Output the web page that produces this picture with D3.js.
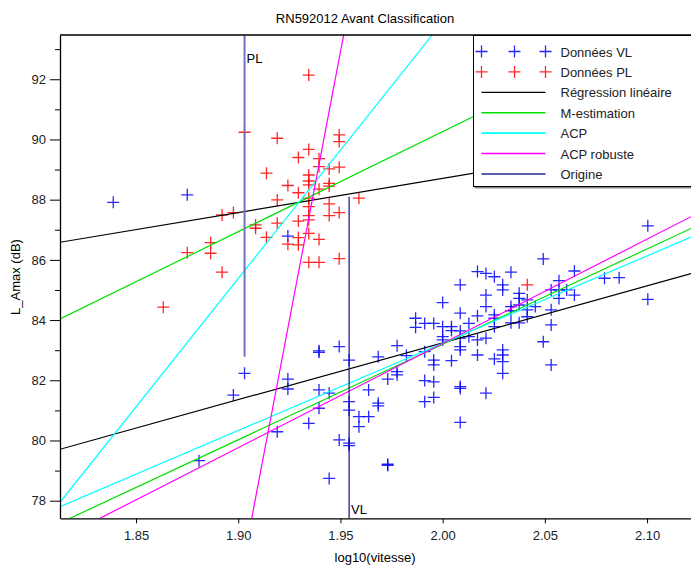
<!DOCTYPE html>
<html>
<head>
<meta charset="utf-8">
<script src="https://cdn.jsdelivr.net/npm/d3@7"></script>
<style>
  body { margin: 0; background: #fff; }
  text { font-family: "Liberation Sans", Arial, sans-serif; }
</style>
</head>
<body>
<div id="chart"></div>
<script>
const chart_width = 691;
const chart_height = 568;
const margin_top = 35;
const margin_right = 0;
const margin_bottom = 50;
const margin_left = 60;

// points VL (vitesse km/h, L_Amax dB)
const vl_vitesse = [69, 75, 76, 79, 80, 83, 84, 84, 84, 86, 87, 87, 87, 87, 88, 88, 89, 89,
  90, 90, 90, 90, 90, 91, 91, 92, 92, 93, 93, 93, 94, 94, 94, 95, 95, 95, 96, 97, 97,
  98, 98, 98, 98, 99, 99, 99, 99, 99, 100, 100, 100, 100, 101, 101, 101,
  102, 102, 102, 102, 102, 102, 102, 102, 102, 103, 103, 104, 104, 104, 104,
  105, 105, 105, 105, 105, 106, 106, 106, 106, 106, 107, 107, 107, 107, 107, 107,
  108, 108, 108, 108, 109, 109, 109, 109, 110, 110, 110, 111, 112, 112,
  113, 113, 113, 113, 114, 114, 114, 115, 116, 116, 120, 122, 126, 126];
const vl_lamax = [87.91, 88.16, 79.33, 81.51, 82.23, 80.29, 86.79, 82.04, 81.71, 80.57, 82.98, 82.93, 81.68, 81.07, 81.57, 78.74, 83.12, 80.02,
  82.67, 81.29, 81.01, 79.91, 79.83, 80.79, 80.46, 81.68, 80.79, 82.78, 81.24, 81.15, 82.04, 79.21, 79.17, 83.15, 82.29, 82.18, 82.82, 84.06, 83.76,
  83.89, 82.95, 81.99, 81.29, 83.89, 82.67, 82.51, 81.95, 81.43, 84.58, 83.78, 83.45, 83.34, 83.78, 83.65, 82.65,
  85.17, 84.23, 83.64, 83.40, 83.12, 83.01, 81.79, 81.73, 80.60, 83.89, 83.45, 85.61, 84.14, 83.34, 82.84,
  85.55, 84.83, 84.45, 83.40, 81.57, 85.44, 84.17, 84.06, 83.78, 82.71, 85.17, 85.00, 83.01, 82.84, 82.62, 82.23,
  85.59, 84.45, 84.31, 83.91, 84.89, 84.72, 84.50, 83.91, 84.67, 84.34, 84.11, 84.45, 86.03, 83.28,
  85.00, 84.34, 83.84, 82.51, 85.31, 85.00, 84.72, 85.00, 85.63, 84.83, 85.39, 85.41, 87.13, 84.69];

// points PL
const pl_vitesse = [86, 80, 83, 89, 89, 86, 85, 87, 87, 88, 89, 82, 86, 86, 84, 86, 88, 88,
  85, 87, 83, 86, 86, 88, 91, 78, 79, 89, 88, 86, 86, 85, 83, 81, 81, 86, 82, 84,
  85, 85, 87, 77, 77, 75, 86, 87, 89, 78, 73, 110];
const pl_lamax = [92.14, 90.24, 90.04, 90.15, 89.93, 89.67, 89.40, 89.36, 89.10, 89.02, 89.08, 88.88, 88.82, 88.62, 88.47, 88.49, 88.54, 88.45,
  88.23, 88.35, 87.99, 88.05, 87.77, 87.86, 88.05, 87.49, 87.57, 87.57, 87.47, 87.47, 87.33, 87.29, 87.22, 87.16, 87.05, 86.88, 86.75, 86.52,
  86.74, 86.50, 86.68, 86.57, 86.22, 86.24, 85.92, 85.92, 86.04, 85.59, 84.43, 85.17];

// droites ajustées : L = intercept + slope * log10(vitesse)
const fit_names = ["Régression linéaire", "M-estimation", "ACP", "ACP robuste"];
const fit_colors = ["#000000", "#00e000", "#00ffff", "#ff00ff"];
const pl_intercepts = [66.028, 23.780, -76.594, -603.239];
const pl_slopes = [11.34, 33.24, 85.25, 357.0];
const vl_intercepts = [45.446, 19.813, 25.211, 13.924];
const vl_slopes = [18.9, 31.69, 29.01, 34.65];

// origines (vitesse, L de début, L de fin)
const origin_labels = ["PL", "VL"];
const origin_vitesse = [80, 90];
const origin_from = [82.78, 88.1];
const origin_to = [95, 76];

const x_ticks = [1.85, 1.90, 1.95, 2.00, 2.05, 2.10];
const y_ticks = [78, 80, 82, 84, 86, 88, 90, 92];
const y_minor = [79, 81, 83, 85, 87, 89, 91, 93];

const legend_items = ["Données VL", "Données PL", "Régression linéaire", "M-estimation", "ACP", "ACP robuste", "Origine"];

const svg = d3.select("#chart")
    .append("svg")
    .attr("width", chart_width)
    .attr("height", chart_height);

const x = d3.scaleLinear()
    .domain([1.8128, 2.1215])
    .range([margin_left, chart_width - margin_right]);

const y = d3.scaleLinear()
    .domain([77.415, 93.47])
    .range([chart_height - margin_bottom + 0.3, margin_top]);

svg.append("clipPath").attr("id", "plotclip")
    .append("rect")
    .attr("x", margin_left)
    .attr("y", margin_top)
    .attr("width", chart_width - margin_left + 5)
    .attr("height", y(77.415) - margin_top);

const plot = svg.append("g").attr("clip-path", "url(#plotclip)");

function crosses(g, xs, ys, color) {
    const pts = xs.map((v, i) => ({ x: Math.log10(v), y: ys[i] }));
    g.selectAll(null)
        .data(pts)
        .join("path")
        .attr("d", d => `M${x(d.x) - 6},${y(d.y)}h12M${x(d.x)},${y(d.y) - 6}v12`)
        .attr("stroke", color)
        .attr("stroke-width", 1.3)
        .attr("stroke-opacity", 0.85)
        .attr("fill", "none");
}

crosses(plot, vl_vitesse, vl_lamax, "#0000ff");
crosses(plot, pl_vitesse, pl_lamax, "#ff0000");

const x0 = x.domain()[0], x1 = x.domain()[1];
[[vl_intercepts, vl_slopes], [pl_intercepts, pl_slopes]].forEach(([ints, slopes]) => {
    ints.forEach((a, i) => {
        plot.append("line")
            .attr("x1", x(x0)).attr("y1", y(a + slopes[i] * x0))
            .attr("x2", x(x1)).attr("y2", y(a + slopes[i] * x1))
            .attr("stroke", fit_colors[i])
            .attr("stroke-width", 1.2);
    });
});

// segments d'origine
origin_vitesse.forEach((v, i) => {
    plot.append("line")
        .attr("x1", x(Math.log10(v))).attr("x2", x(Math.log10(v)))
        .attr("y1", y(origin_from[i])).attr("y2", y(origin_to[i]))
        .attr("stroke", i === 0 ? "#7272c2" : "#101090")
        .attr("stroke-width", i === 0 ? 2 : 1.2);
});
svg.append("text")
    .attr("x", x(Math.log10(origin_vitesse[0])) + 2)
    .attr("y", 63)
    .style("font-size", "13px")
    .text(origin_labels[0]);
svg.append("text")
    .attr("x", x(Math.log10(origin_vitesse[1])) + 2)
    .attr("y", 514)
    .style("font-size", "13px")
    .text(origin_labels[1]);

// axes
const x_axis = svg.append("g")
    .attr("transform", `translate(0,${y(77.415)})`)
    .call(d3.axisBottom(x).tickValues(x_ticks).tickFormat(d3.format(".2f")).tickSize(5).tickSizeOuter(0));

const y_axis = svg.append("g")
    .attr("transform", `translate(${margin_left},0)`)
    .call(d3.axisLeft(y).tickValues(y_ticks).tickFormat(d3.format("d")).tickSize(10).tickSizeOuter(0));

svg.append("g")
    .attr("transform", `translate(${margin_left},0)`)
    .call(d3.axisLeft(y).tickValues(y_minor).tickFormat("").tickSize(5).tickSizeOuter(0))
    .select(".domain").remove();

[x_axis, y_axis].forEach(g => {
    g.selectAll("text").style("font-size", "13px").style("font-family", "Liberation Sans, Arial, sans-serif").attr("fill", "#222");
    g.select(".domain").attr("stroke-width", 1.3);
});
x_axis.selectAll("text").attr("dy", "1.05em");
y_axis.selectAll("text").attr("x", -14);

// cadre haut
svg.append("line")
    .attr("x1", margin_left).attr("x2", chart_width)
    .attr("y1", margin_top).attr("y2", margin_top)
    .attr("stroke", "black").attr("stroke-width", 1.3);

svg.append("text")
    .attr("x", 365)
    .attr("y", 23)
    .attr("text-anchor", "middle")
    .style("font-size", "13px")
    .text("RN592012 Avant Classification");

svg.append("text")
    .attr("x", 375)
    .attr("y", 562)
    .attr("text-anchor", "middle")
    .style("font-size", "13px")
    .text("log10(vitesse)");

svg.append("text")
    .attr("transform", "rotate(-90)")
    .attr("x", -277)
    .attr("y", 20)
    .attr("text-anchor", "middle")
    .style("font-size", "13px")
    .text("L_Amax (dB)");

// légende
const legend = svg.append("g").attr("transform", "translate(473.5,35.5)");
legend.append("rect")
    .attr("x", 1).attr("y", 2)
    .attr("width", 240).attr("height", 151)
    .attr("fill", "#888");
legend.append("rect")
    .attr("x", 0).attr("y", 0)
    .attr("width", 240).attr("height", 151)
    .attr("fill", "white")
    .attr("stroke", "black");

const leg_colors = ["#0000ff", "#ff0000"].concat(fit_colors).concat(["#5c5cb0"]);
legend_items.forEach((name, i) => {
    const yy = 16 + i * 20.4;
    if (i < 2) {
        [8, 41, 72].forEach(xx => {
            legend.append("path")
                .attr("d", `M${xx - 6},${yy}h12M${xx},${yy - 6}v12`)
                .attr("stroke", leg_colors[i])
                .attr("stroke-width", 1.3)
                .attr("stroke-opacity", 0.85);
        });
    } else {
        legend.append("line")
            .attr("x1", 8).attr("x2", 72)
            .attr("y1", yy).attr("y2", yy)
            .attr("stroke", leg_colors[i])
            .attr("stroke-width", i === 2 ? 1.2 : (i === 6 ? 2 : 1.6));
    }
    legend.append("text")
        .attr("x", 87)
        .attr("y", yy + 5)
        .style("font-size", "13px")
        .attr("fill", "#222")
        .text(name);
});
</script>
</body>
</html>
